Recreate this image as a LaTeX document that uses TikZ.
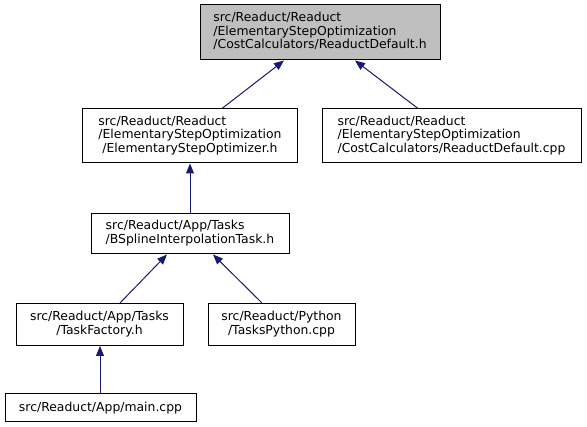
\documentclass[tikz,border=0pt]{standalone}
\usepackage{fontspec}
\setmainfont{DejaVu Sans}
\usetikzlibrary{arrows.meta}
\definecolor{edgeblue}{RGB}{25,25,112}
\definecolor{nodegray}{RGB}{191,191,191}
\newcommand{\lastline}[1]{\multicolumn{1}{@{}c@{}}{#1}}
\newcommand{\lbl}[1]{\begin{tabular}{@{}l@{}}#1\end{tabular}}
\tikzset{
  filebox/.style={draw=black, line width=1pt, rectangle, inner sep=0pt, anchor=center,
    font=\fontsize{12.4}{13.7}\selectfont, text=black},
  rootbox/.style={filebox, fill=nodegray},
  dep/.style={draw=edgeblue, line width=1pt, -{Triangle[length=10pt,width=8pt]}, color=edgeblue},
}
\begin{document}
\begin{tikzpicture}[x=1pt,y=-1pt]
\useasboundingbox (0,0) rectangle (587,427);
\node[rootbox, minimum width=240pt, minimum height=55pt] (n1) at (320,32.5)
  {\lbl{src/Readuct/Readuct\\/ElementaryStepOptimization\\\lastline{/CostCalculators/ReaductDefault.h}}};
\node[filebox, minimum width=215pt, minimum height=54pt] (n2) at (190,136)
  {\lbl{src/Readuct/Readuct\\/ElementaryStepOptimization\\\lastline{/ElementaryStepOptimizer.h}}};
\node[filebox, minimum width=259pt, minimum height=54pt] (n3) at (451.5,136)
  {\lbl{src/Readuct/Readuct\\/ElementaryStepOptimization\\\lastline{/CostCalculators/ReaductDefault.cpp}}};
\node[filebox, minimum width=198pt, minimum height=40pt] (n4) at (190,234)
  {\lbl{src/Readuct/App/Tasks\\\lastline{/BSplineInterpolationTask.h}}};
\node[filebox, minimum width=167pt, minimum height=42pt] (n5) at (99.5,324.5)
  {\lbl{src/Readuct/App/Tasks\\\lastline{/TaskFactory.h}}};
\node[filebox, minimum width=147pt, minimum height=42pt] (n6) at (281.5,324.5)
  {\lbl{src/Readuct/Python\\\lastline{/TasksPython.cpp}}};
\node[filebox, minimum width=191pt, minimum height=28pt] (n7) at (100.5,408)
  {src/Readuct/App/main.cpp};
\draw[dep] ([xshift=32pt]n2.north) -- ([xshift=-36pt]n1.south);
\draw[dep] ([xshift=-33.5pt]n3.north) -- ([xshift=35pt]n1.south);
\draw[dep] (n4.north) -- (n2.south);
\draw[dep] ([xshift=20.5pt]n5.north) -- ([xshift=-23pt]n4.south);
\draw[dep] ([xshift=-19.5pt]n6.north) -- ([xshift=23pt]n4.south);
\draw[dep] ([xshift=-0.5pt]n7.north) -- ([xshift=0.5pt]n5.south);
\end{tikzpicture}
\end{document}
